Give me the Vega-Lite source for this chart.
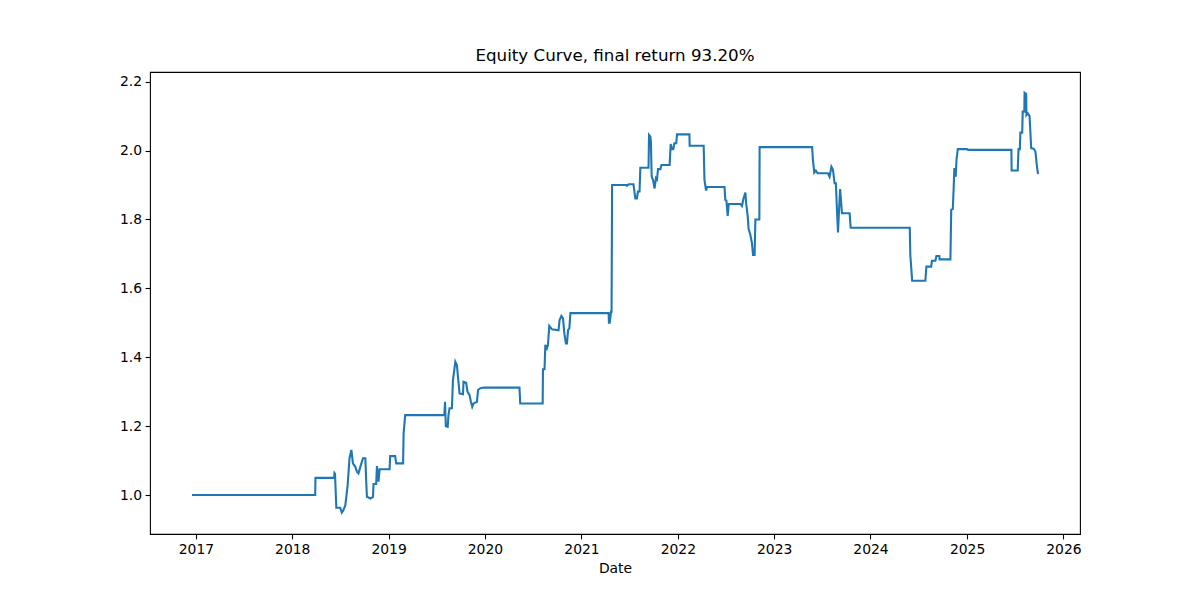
{
  "$schema": "https://vega.github.io/schema/vega-lite/v6.json",
  "width": 930,
  "height": 462,
  "autosize": {"type": "none"},
  "padding": {"left": 150, "top": 72, "right": 120, "bottom": 66},
  "background": "white",
  "title": {"text": "Equity Curve, final return 93.20%", "font": "DejaVu Sans", "fontSize": 16.7, "fontWeight": "normal", "color": "black", "offset": 7},
  "config": {
    "view": {"stroke": "black", "strokeWidth": 1.1},
    "axis": {"grid": false, "domain": false, "tickColor": "black", "tickWidth": 1.1, "tickSize": 4.9, "labelFont": "DejaVu Sans", "labelFontSize": 13.9, "labelColor": "black", "labelPadding": 3.5, "titleFont": "DejaVu Sans", "titleFontSize": 13.9, "titleFontWeight": "normal", "titleColor": "black"}
  },
  "data": {"values": [
    {"Date": "2016-12-17", "Equity": 1.000},
    {"Date": "2018-03-29", "Equity": 1.000},
    {"Date": "2018-03-30", "Equity": 1.050},
    {"Date": "2018-06-09", "Equity": 1.050},
    {"Date": "2018-06-10", "Equity": 1.064},
    {"Date": "2018-06-12", "Equity": 1.062},
    {"Date": "2018-06-17", "Equity": 0.963},
    {"Date": "2018-07-02", "Equity": 0.963},
    {"Date": "2018-07-08", "Equity": 0.949},
    {"Date": "2018-07-13", "Equity": 0.955},
    {"Date": "2018-07-21", "Equity": 0.970},
    {"Date": "2018-07-30", "Equity": 1.029},
    {"Date": "2018-08-06", "Equity": 1.107},
    {"Date": "2018-08-13", "Equity": 1.131},
    {"Date": "2018-08-19", "Equity": 1.092},
    {"Date": "2018-08-28", "Equity": 1.082},
    {"Date": "2018-09-03", "Equity": 1.068},
    {"Date": "2018-09-09", "Equity": 1.063},
    {"Date": "2018-09-18", "Equity": 1.087},
    {"Date": "2018-09-26", "Equity": 1.107},
    {"Date": "2018-10-05", "Equity": 1.107},
    {"Date": "2018-10-08", "Equity": 1.044},
    {"Date": "2018-10-11", "Equity": 0.995},
    {"Date": "2018-10-24", "Equity": 0.990},
    {"Date": "2018-11-03", "Equity": 0.995},
    {"Date": "2018-11-05", "Equity": 1.032},
    {"Date": "2018-11-15", "Equity": 1.032},
    {"Date": "2018-11-18", "Equity": 1.084},
    {"Date": "2018-11-24", "Equity": 1.039},
    {"Date": "2018-11-28", "Equity": 1.075},
    {"Date": "2019-01-05", "Equity": 1.075},
    {"Date": "2019-01-07", "Equity": 1.113},
    {"Date": "2019-01-26", "Equity": 1.113},
    {"Date": "2019-01-30", "Equity": 1.092},
    {"Date": "2019-02-25", "Equity": 1.092},
    {"Date": "2019-02-27", "Equity": 1.179},
    {"Date": "2019-03-05", "Equity": 1.232},
    {"Date": "2019-07-31", "Equity": 1.232},
    {"Date": "2019-08-03", "Equity": 1.271},
    {"Date": "2019-08-06", "Equity": 1.200},
    {"Date": "2019-08-13", "Equity": 1.198},
    {"Date": "2019-08-16", "Equity": 1.232},
    {"Date": "2019-08-20", "Equity": 1.252},
    {"Date": "2019-08-29", "Equity": 1.252},
    {"Date": "2019-09-02", "Equity": 1.334},
    {"Date": "2019-09-07", "Equity": 1.363},
    {"Date": "2019-09-11", "Equity": 1.387},
    {"Date": "2019-09-17", "Equity": 1.377},
    {"Date": "2019-09-21", "Equity": 1.343},
    {"Date": "2019-09-27", "Equity": 1.295},
    {"Date": "2019-10-10", "Equity": 1.293},
    {"Date": "2019-10-12", "Equity": 1.329},
    {"Date": "2019-10-22", "Equity": 1.326},
    {"Date": "2019-10-27", "Equity": 1.300},
    {"Date": "2019-11-04", "Equity": 1.290},
    {"Date": "2019-11-09", "Equity": 1.271},
    {"Date": "2019-11-14", "Equity": 1.256},
    {"Date": "2019-11-19", "Equity": 1.266},
    {"Date": "2019-12-02", "Equity": 1.271},
    {"Date": "2019-12-06", "Equity": 1.305},
    {"Date": "2019-12-15", "Equity": 1.310},
    {"Date": "2019-12-27", "Equity": 1.312},
    {"Date": "2020-05-11", "Equity": 1.312},
    {"Date": "2020-05-14", "Equity": 1.266},
    {"Date": "2020-08-07", "Equity": 1.266},
    {"Date": "2020-08-08", "Equity": 1.365},
    {"Date": "2020-08-14", "Equity": 1.365},
    {"Date": "2020-08-17", "Equity": 1.436},
    {"Date": "2020-08-23", "Equity": 1.426},
    {"Date": "2020-08-27", "Equity": 1.436},
    {"Date": "2020-09-01", "Equity": 1.491},
    {"Date": "2020-09-11", "Equity": 1.481},
    {"Date": "2020-10-06", "Equity": 1.478},
    {"Date": "2020-10-10", "Equity": 1.508},
    {"Date": "2020-10-17", "Equity": 1.520},
    {"Date": "2020-10-23", "Equity": 1.513},
    {"Date": "2020-10-28", "Equity": 1.470},
    {"Date": "2020-11-03", "Equity": 1.440},
    {"Date": "2020-11-07", "Equity": 1.440},
    {"Date": "2020-11-11", "Equity": 1.479},
    {"Date": "2020-11-16", "Equity": 1.484},
    {"Date": "2020-11-20", "Equity": 1.528},
    {"Date": "2021-04-14", "Equity": 1.528},
    {"Date": "2021-04-15", "Equity": 1.500},
    {"Date": "2021-04-18", "Equity": 1.500},
    {"Date": "2021-04-23", "Equity": 1.532},
    {"Date": "2021-04-25", "Equity": 1.532},
    {"Date": "2021-04-27", "Equity": 1.900},
    {"Date": "2021-06-20", "Equity": 1.900},
    {"Date": "2021-06-22", "Equity": 1.898},
    {"Date": "2021-06-29", "Equity": 1.902},
    {"Date": "2021-07-17", "Equity": 1.902},
    {"Date": "2021-07-24", "Equity": 1.861},
    {"Date": "2021-07-30", "Equity": 1.861},
    {"Date": "2021-08-03", "Equity": 1.881},
    {"Date": "2021-08-09", "Equity": 1.881},
    {"Date": "2021-08-12", "Equity": 1.950},
    {"Date": "2021-09-12", "Equity": 1.950},
    {"Date": "2021-09-14", "Equity": 2.045},
    {"Date": "2021-09-19", "Equity": 2.040},
    {"Date": "2021-09-21", "Equity": 2.026},
    {"Date": "2021-09-24", "Equity": 1.924},
    {"Date": "2021-09-29", "Equity": 1.915},
    {"Date": "2021-10-05", "Equity": 1.890},
    {"Date": "2021-10-10", "Equity": 1.920},
    {"Date": "2021-10-14", "Equity": 1.916},
    {"Date": "2021-10-18", "Equity": 1.946},
    {"Date": "2021-10-27", "Equity": 1.946},
    {"Date": "2021-10-31", "Equity": 1.958},
    {"Date": "2021-12-01", "Equity": 1.958},
    {"Date": "2021-12-05", "Equity": 2.019},
    {"Date": "2021-12-10", "Equity": 2.004},
    {"Date": "2021-12-15", "Equity": 2.004},
    {"Date": "2021-12-19", "Equity": 2.021},
    {"Date": "2021-12-26", "Equity": 2.021},
    {"Date": "2021-12-29", "Equity": 2.047},
    {"Date": "2022-02-14", "Equity": 2.047},
    {"Date": "2022-02-15", "Equity": 2.014},
    {"Date": "2022-04-09", "Equity": 2.014},
    {"Date": "2022-04-12", "Equity": 1.915},
    {"Date": "2022-04-18", "Equity": 1.884},
    {"Date": "2022-04-22", "Equity": 1.894},
    {"Date": "2022-06-27", "Equity": 1.894},
    {"Date": "2022-06-30", "Equity": 1.857},
    {"Date": "2022-07-04", "Equity": 1.855},
    {"Date": "2022-07-09", "Equity": 1.810},
    {"Date": "2022-07-13", "Equity": 1.845},
    {"Date": "2022-08-26", "Equity": 1.845},
    {"Date": "2022-09-01", "Equity": 1.839},
    {"Date": "2022-09-07", "Equity": 1.861},
    {"Date": "2022-09-14", "Equity": 1.878},
    {"Date": "2022-09-17", "Equity": 1.847},
    {"Date": "2022-09-23", "Equity": 1.808},
    {"Date": "2022-09-26", "Equity": 1.774},
    {"Date": "2022-10-03", "Equity": 1.755},
    {"Date": "2022-10-09", "Equity": 1.731},
    {"Date": "2022-10-13", "Equity": 1.697},
    {"Date": "2022-10-19", "Equity": 1.697},
    {"Date": "2022-10-22", "Equity": 1.800},
    {"Date": "2022-11-06", "Equity": 1.800},
    {"Date": "2022-11-07", "Equity": 2.010},
    {"Date": "2023-05-25", "Equity": 2.010},
    {"Date": "2023-05-28", "Equity": 1.973},
    {"Date": "2023-06-02", "Equity": 1.936},
    {"Date": "2023-06-08", "Equity": 1.942},
    {"Date": "2023-06-15", "Equity": 1.934},
    {"Date": "2023-07-24", "Equity": 1.934},
    {"Date": "2023-07-30", "Equity": 1.924},
    {"Date": "2023-08-06", "Equity": 1.953},
    {"Date": "2023-08-12", "Equity": 1.944},
    {"Date": "2023-08-18", "Equity": 1.905},
    {"Date": "2023-08-23", "Equity": 1.905},
    {"Date": "2023-08-27", "Equity": 1.828},
    {"Date": "2023-08-31", "Equity": 1.762},
    {"Date": "2023-09-04", "Equity": 1.828},
    {"Date": "2023-09-08", "Equity": 1.888},
    {"Date": "2023-09-12", "Equity": 1.850},
    {"Date": "2023-09-15", "Equity": 1.818},
    {"Date": "2023-10-14", "Equity": 1.818},
    {"Date": "2023-10-18", "Equity": 1.776},
    {"Date": "2024-05-29", "Equity": 1.776},
    {"Date": "2024-05-31", "Equity": 1.697},
    {"Date": "2024-06-07", "Equity": 1.622},
    {"Date": "2024-07-27", "Equity": 1.622},
    {"Date": "2024-07-31", "Equity": 1.663},
    {"Date": "2024-08-18", "Equity": 1.663},
    {"Date": "2024-08-21", "Equity": 1.680},
    {"Date": "2024-09-03", "Equity": 1.680},
    {"Date": "2024-09-07", "Equity": 1.694},
    {"Date": "2024-09-18", "Equity": 1.694},
    {"Date": "2024-09-19", "Equity": 1.684},
    {"Date": "2024-10-30", "Equity": 1.684},
    {"Date": "2024-11-02", "Equity": 1.828},
    {"Date": "2024-11-08", "Equity": 1.830},
    {"Date": "2024-11-11", "Equity": 1.886},
    {"Date": "2024-11-14", "Equity": 1.949},
    {"Date": "2024-11-19", "Equity": 1.924},
    {"Date": "2024-11-22", "Equity": 1.973},
    {"Date": "2024-11-27", "Equity": 2.004},
    {"Date": "2025-01-01", "Equity": 2.004},
    {"Date": "2025-01-05", "Equity": 2.002},
    {"Date": "2025-06-18", "Equity": 2.002},
    {"Date": "2025-06-19", "Equity": 1.942},
    {"Date": "2025-07-12", "Equity": 1.942},
    {"Date": "2025-07-15", "Equity": 2.004},
    {"Date": "2025-07-20", "Equity": 2.004},
    {"Date": "2025-07-22", "Equity": 2.052},
    {"Date": "2025-07-29", "Equity": 2.052},
    {"Date": "2025-07-31", "Equity": 2.113},
    {"Date": "2025-08-06", "Equity": 2.113},
    {"Date": "2025-08-07", "Equity": 2.168},
    {"Date": "2025-08-13", "Equity": 2.165},
    {"Date": "2025-08-14", "Equity": 2.103},
    {"Date": "2025-08-19", "Equity": 2.108},
    {"Date": "2025-08-26", "Equity": 2.100},
    {"Date": "2025-09-01", "Equity": 2.007},
    {"Date": "2025-09-11", "Equity": 2.005},
    {"Date": "2025-09-17", "Equity": 1.997},
    {"Date": "2025-09-23", "Equity": 1.953},
    {"Date": "2025-09-27", "Equity": 1.932}
  ]},
  "mark": {"type": "line", "color": "#1f77b4", "strokeWidth": 2.1, "interpolate": "linear", "clip": true},
  "encoding": {
    "x": {
      "field": "Date", "type": "temporal",
      "scale": {"type": "utc", "domain": [{"year": 2016, "month": 7, "date": 11, "utc": true}, {"year": 2026, "month": 3, "date": 5, "utc": true}], "nice": false},
      "axis": {
        "title": "Date", "format": "%Y", "formatType": "utc",
        "values": [
          {"year": 2017, "month": 1, "date": 1, "utc": true},
          {"year": 2018, "month": 1, "date": 1, "utc": true},
          {"year": 2019, "month": 1, "date": 1, "utc": true},
          {"year": 2020, "month": 1, "date": 1, "utc": true},
          {"year": 2021, "month": 1, "date": 1, "utc": true},
          {"year": 2022, "month": 1, "date": 1, "utc": true},
          {"year": 2023, "month": 1, "date": 1, "utc": true},
          {"year": 2024, "month": 1, "date": 1, "utc": true},
          {"year": 2025, "month": 1, "date": 1, "utc": true},
          {"year": 2026, "month": 1, "date": 1, "utc": true}
        ],
        "labelFlush": false, "labelOverlap": false, "titlePadding": 5
      }
    },
    "y": {
      "field": "Equity", "type": "quantitative",
      "scale": {"domain": [0.887, 2.228], "nice": false, "zero": false},
      "axis": {"title": null, "values": [1.0, 1.2, 1.4, 1.6, 1.8, 2.0, 2.2], "format": ".1f"}
    }
  }
}
